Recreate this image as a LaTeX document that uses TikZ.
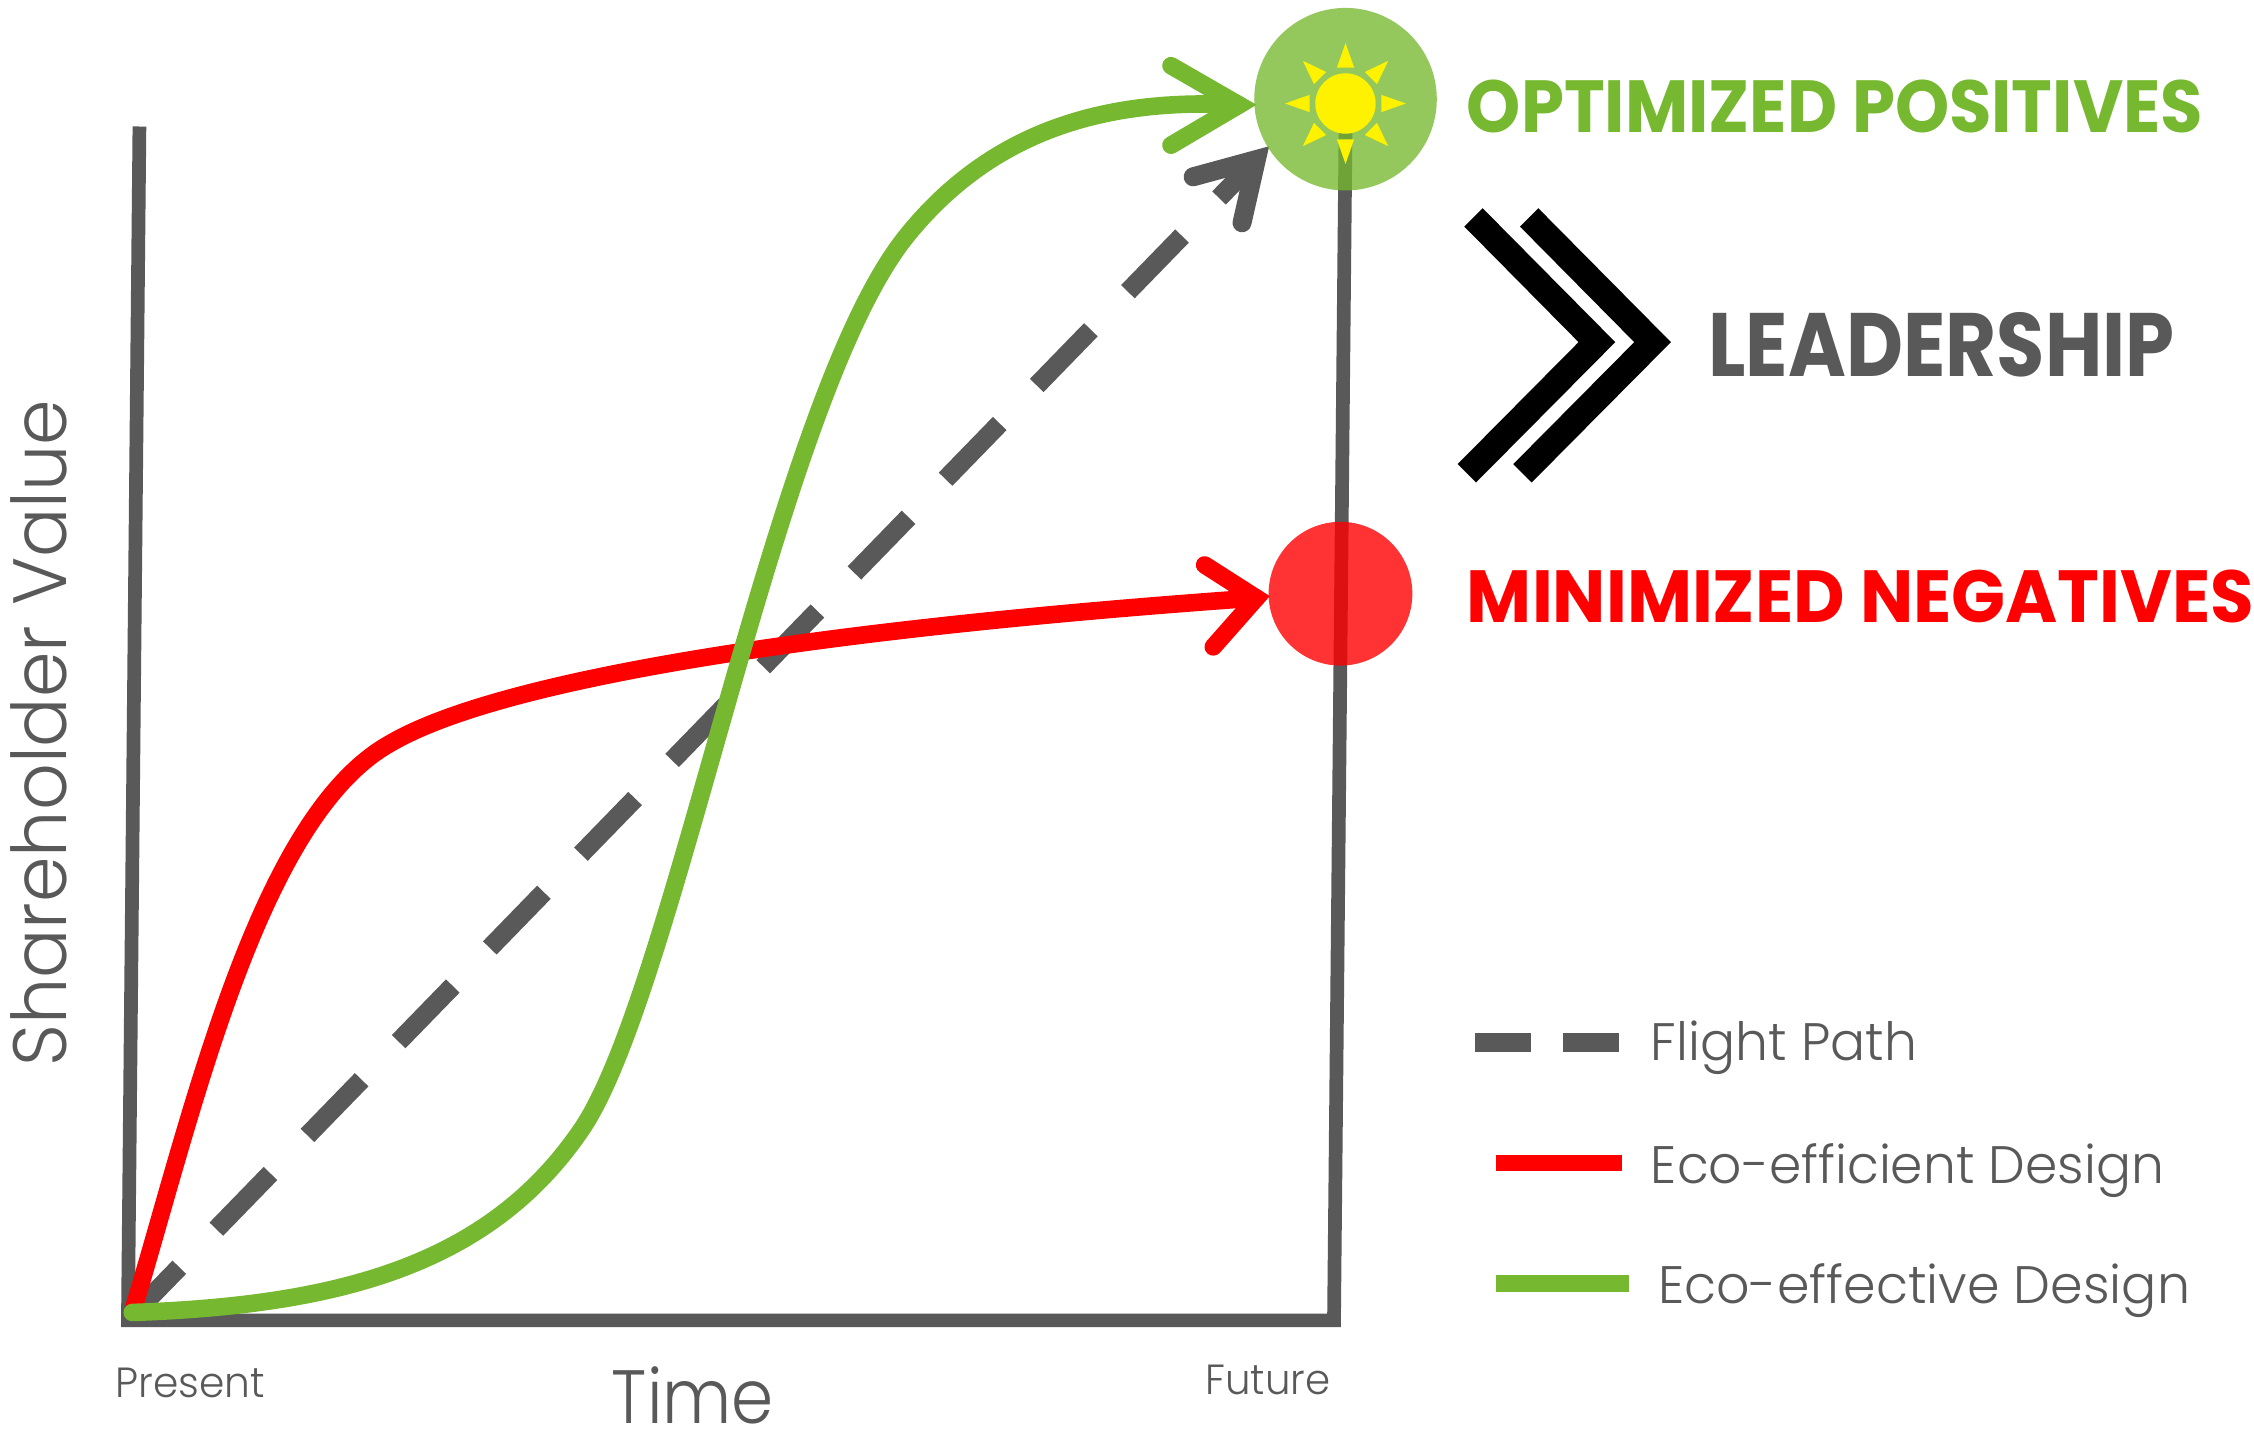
\documentclass[tikz,border=0pt]{standalone}
\usepackage{graphicx}
\usepackage{fontspec}
\setmainfont{Poppins}
\newfontfamily\lightfont{Poppins Light}
\definecolor{ax}{HTML}{595959}
\definecolor{gr}{HTML}{76B82F}
\newcommand{\fitw}[2]{\resizebox{#1}{\height}{#2}}
\tikzset{
 x=0.014375cm,y=-0.014375cm,
 axisline/.style={draw=ax,line width=3.9pt,line join=miter},
 curveline/.style={line width=5pt,line cap=round,line join=round},
 headline/.style={line width=5pt,line cap=round,line join=miter},
 dashline/.style={draw=ax,line width=5.4pt},
 heavy/.style={anchor=base west,inner sep=0pt},
 leg/.style={text=ax,font=\lightfont\fontsize{15}{18}\selectfont,anchor=base west,inner sep=0pt},
 small/.style={text=ax,font=\lightfont\fontsize{12}{14}\selectfont,anchor=base west,inner sep=0pt},
 large/.style={text=ax,font=\lightfont\fontsize{21.5}{26}\selectfont,anchor=base,inner sep=0pt},
 ray/.style={fill=yellow},
}
\begin{document}
\begin{tikzpicture}
\useasboundingbox (0,0) rectangle (1568,998.26);
% axes
\coordinate (axt) at (97,88);
\coordinate (org) at (89,918.5);
\coordinate (axr) at (928,918.5);
\coordinate (axe) at (936,92);
\draw[axisline] (axt) -- (org) -- (axr) -- (axe);
% dashed flight path
\coordinate (fs) at (99,908);
\coordinate (ft) at (874,111);
\draw[dashline,dash pattern=on 22.1pt off 15.1pt,dash phase=7pt] (fs) -- (ft);
\coordinate (fa) at (830,123);
\coordinate (fb) at (864,155);
\draw[draw=ax,line width=5.4pt,line cap=round,line join=miter] (fa) -- (ft) -- (fb);
% red
\coordinate (rs) at (93,910);
\coordinate (rm) at (270,518);
\coordinate (rt) at (874,416);
\draw[curveline,draw=red] (rs) .. controls (135,770) and (180,570) .. (rm) .. controls (350,470) and (590,436) .. (rt);
\coordinate (ra) at (838,393);
\coordinate (rb) at (844,450);
\draw[headline,draw=red] (ra) -- (rt) -- (rb);
% green
\coordinate (gs) at (92,913);
\coordinate (gm) at (405,785);
\coordinate (gn) at (630,165);
\coordinate (gt) at (862,73);
\draw[curveline,draw=gr] (gs) .. controls (240,908) and (342,878) .. (gm) .. controls (470,688) and (540,278) .. (gn) .. controls (690,90) and (770,68) .. (gt);
\coordinate (ga) at (814.6,45.7);
\coordinate (gb) at (814.6,101);
\draw[headline,draw=gr] (ga) -- (gt) -- (gb);
% circles
\node[circle,fill=gr,fill opacity=.78,minimum size=127*0.014375cm,inner sep=0pt] (sunc) at (936,69) {};
\node[circle,fill=red,fill opacity=.8,minimum size=100*0.014375cm,inner sep=0pt] (redc) at (932.5,413) {};
% sun
\coordinate (sun) at (936,72);
\foreach \a in {0,45,...,315}{
 \fill[ray,rotate around={\a:(sun)}] (936,30) -- (930,47)-- (942,47) -- cycle;
}
\node[circle,fill=yellow,minimum size=42*0.014375cm,inner sep=0pt] (sund) at (sun) {};
% chevrons
\begin{scope}[x=0.01cm,y=-0.01cm]
\foreach \d in {0,55.7}{
 \fill[black,shift={(\d,0)}] (1483.3,208.3) -- (1465,226.7) -- (1579.3,342.3) -- (1458.3,464.3) -- (1476.7,482.7) -- (1616,342.3) -- cycle;
}
\end{scope}
% headings
\node[heavy,text=gr,font=\bfseries\fontsize{21}{25}\selectfont] (pos) at (1020,92) {\fitw{7.36cm}{OPTIMIZED POSITIVES}};
\node[heavy,text=ax,font=\bfseries\fontsize{25.6}{30}\selectfont] (lead) at (1188,262) {\fitw{4.66cm}{LEADERSHIP}};
\node[heavy,text=red,font=\bfseries\fontsize{21}{25}\selectfont] (neg) at (1020,433) {\fitw{7.87cm}{MINIMIZED NEGATIVES}};
% legend
\coordinate (l1a) at (1026,725); \coordinate (l1b) at (1128,725);
\draw[draw=ax,line width=5.4pt,dash pattern=on 15.9pt off 9.3pt] (l1a) -- (l1b);
\coordinate (l2a) at (1041,809); \coordinate (l2b) at (1128,809);
\draw[draw=red,line width=4.8pt] (l2a) -- (l2b);
\coordinate (l3a) at (1041,893); \coordinate (l3b) at (1133,893);
\draw[draw=gr,line width=4.8pt] (l3a) -- (l3b);
\node[leg] (t1) at (1148,738) {\fitw{2.66cm}{Flight Path}};
\node[leg] (t2) at (1148,823) {\fitw{5.13cm}{Eco-efficient Design}};
\node[leg] (t3) at (1153,907) {\fitw{5.32cm}{Eco-effective Design}};
% axis labels
\node[large,rotate=90] (sv) at (46,510) {\fitw{6.67cm}{Shareholder Value}};
\node[large] (time) at (482,990) {\fitw{1.62cm}{Time}};
\node[small] (pr) at (80,972) {\fitw{1.495cm}{Present}};
\node[small] (fu) at (838,970) {\fitw{1.25cm}{Future}};
\end{tikzpicture}
\end{document}
